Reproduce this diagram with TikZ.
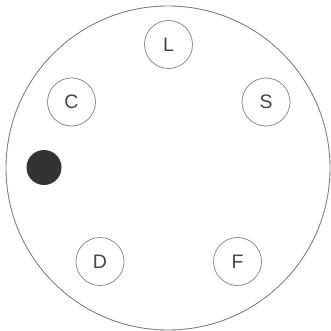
\documentclass[tikz,border=0pt]{standalone}
\usepackage{fontspec}
\setmainfont{Liberation Sans}
\begin{document}
\begin{tikzpicture}[x=1pt,y=-1pt,
  port/.style={circle,draw=black!45,line width=0.8pt,minimum size=48pt,inner sep=0pt,
    font=\fontsize{19.5}{19.5}\selectfont,text=black!72},
  outer/.style={circle,draw=black!50,line width=0.9pt,minimum size=324pt,inner sep=0pt},
  dot/.style={circle,fill=black!80,minimum size=35pt,inner sep=0pt}]
\useasboundingbox (0,0) rectangle (331,331);
\node[outer] (body) at (168,168) {};
\node[port] (L) at (168.5,44.5) {L};
\node[port] (C) at (71.5,102) {C};
\node[port] (S) at (266,102) {S};
\node[port] (D) at (100,261.5) {D};
\node[port] (F) at (237.5,261.5) {F};
\node[dot] (key) at (44,167.5) {};
\end{tikzpicture}
\end{document}
